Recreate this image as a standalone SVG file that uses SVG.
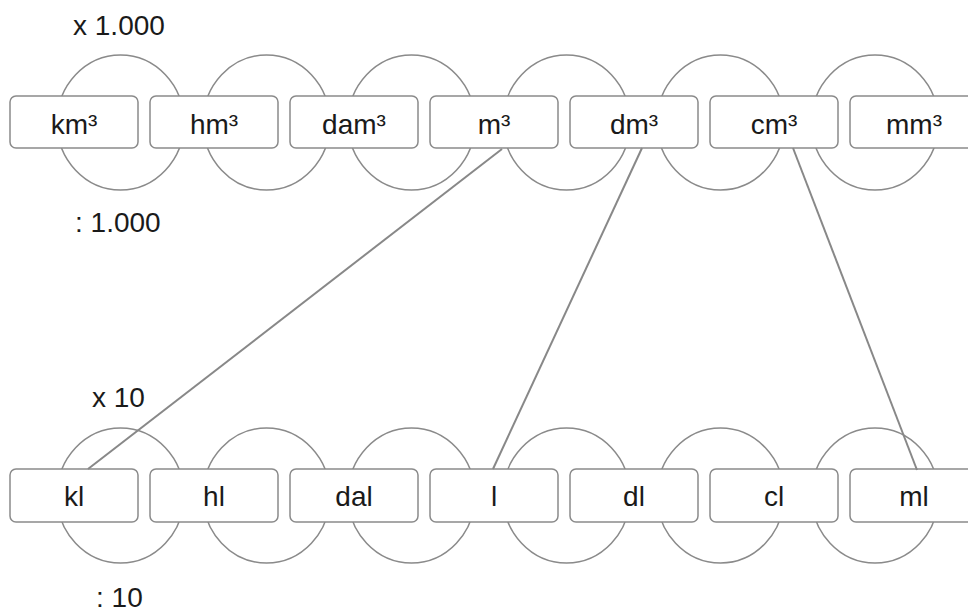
<svg xmlns="http://www.w3.org/2000/svg" width="968" height="612" viewBox="0 0 968 612">
<style>
.ring{fill:none;stroke:#8a8a8a;stroke-width:1.5}
.box{fill:#fff;stroke:#8a8a8a;stroke-width:1.5}
.t{font-family:"Liberation Sans",Arial,sans-serif;font-size:28px;fill:#1a1a1a;text-anchor:middle}
.lbl{font-family:"Liberation Sans",Arial,sans-serif;font-size:28px;fill:#1a1a1a}
.conn{stroke:#888;stroke-width:2;fill:none}
</style>
<rect width="968" height="612" fill="#fff"/>
<g id="rings-top">
<ellipse class="ring" cx="120.5" cy="122.5" rx="63.5" ry="67.5"/>
<ellipse class="ring" cx="266.5" cy="122.5" rx="63.5" ry="67.5"/>
<ellipse class="ring" cx="411.5" cy="122.5" rx="63.5" ry="67.5"/>
<ellipse class="ring" cx="566.5" cy="122.5" rx="63.5" ry="67.5"/>
<ellipse class="ring" cx="720.5" cy="122.5" rx="63.5" ry="67.5"/>
<ellipse class="ring" cx="875" cy="122.5" rx="63.5" ry="67.5"/>
</g>
<g id="rings-bottom">
<ellipse class="ring" cx="120.5" cy="495.5" rx="63.5" ry="67.5"/>
<ellipse class="ring" cx="266.5" cy="495.5" rx="63.5" ry="67.5"/>
<ellipse class="ring" cx="411.5" cy="495.5" rx="63.5" ry="67.5"/>
<ellipse class="ring" cx="566.5" cy="495.5" rx="63.5" ry="67.5"/>
<ellipse class="ring" cx="720.5" cy="495.5" rx="63.5" ry="67.5"/>
<ellipse class="ring" cx="875" cy="495.5" rx="63.5" ry="67.5"/>
</g>
<g id="km3"><rect class="box" x="10" y="96" width="128" height="52" rx="6"/><text class="t" x="74" y="134">km³</text></g>
<g id="hm3"><rect class="box" x="150" y="96" width="128" height="52" rx="6"/><text class="t" x="214" y="134">hm³</text></g>
<g id="dam3"><rect class="box" x="290" y="96" width="128" height="52" rx="6"/><text class="t" x="354" y="134">dam³</text></g>
<g id="m3"><rect class="box" x="430" y="96" width="128" height="52" rx="6"/><text class="t" x="494" y="134">m³</text></g>
<g id="dm3"><rect class="box" x="570" y="96" width="128" height="52" rx="6"/><text class="t" x="634" y="134">dm³</text></g>
<g id="cm3"><rect class="box" x="710" y="96" width="128" height="52" rx="6"/><text class="t" x="774" y="134">cm³</text></g>
<g id="mm3"><rect class="box" x="850" y="96" width="128" height="52" rx="6"/><text class="t" x="914" y="134">mm³</text></g>
<g id="kl"><rect class="box" x="10" y="469" width="128" height="53" rx="6"/><text class="t" x="74" y="506">kl</text></g>
<g id="hl"><rect class="box" x="150" y="469" width="128" height="53" rx="6"/><text class="t" x="214" y="506">hl</text></g>
<g id="dal"><rect class="box" x="290" y="469" width="128" height="53" rx="6"/><text class="t" x="354" y="506">dal</text></g>
<g id="l"><rect class="box" x="430" y="469" width="128" height="53" rx="6"/><text class="t" x="494" y="506">l</text></g>
<g id="dl"><rect class="box" x="570" y="469" width="128" height="53" rx="6"/><text class="t" x="634" y="506">dl</text></g>
<g id="cl"><rect class="box" x="710" y="469" width="128" height="53" rx="6"/><text class="t" x="774" y="506">cl</text></g>
<g id="ml"><rect class="box" x="850" y="469" width="128" height="53" rx="6"/><text class="t" x="914" y="506">ml</text></g>
<g id="labels">
<text class="lbl" x="73" y="35">x 1.000</text>
<text class="lbl" x="75" y="232">: 1.000</text>
<text class="lbl" x="92" y="407">x 10</text>
<text class="lbl" x="96" y="607">: 10</text>
</g>
<g id="connectors">
<line class="conn" x1="502" y1="149" x2="88" y2="469"/>
<line class="conn" x1="642" y1="148" x2="493" y2="469"/>
<line class="conn" x1="793" y1="148" x2="917" y2="470"/>
</g>
</svg>
